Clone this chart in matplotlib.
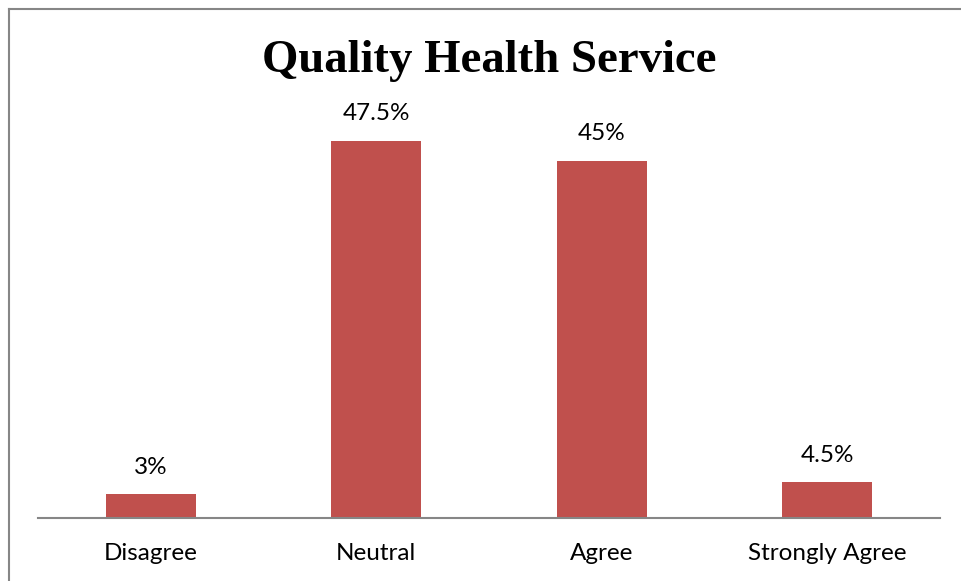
import matplotlib
matplotlib.use("Agg")
import matplotlib.pyplot as plt
from matplotlib.lines import Line2D

categories = ["Disagree", "Neutral", "Agree", "Strongly Agree"]
values = [3, 47.5, 45, 4.5]
value_labels = ["3%", "47.5%", "45%", "4.5%"]
title = "Quality Health Service"

W, H = 961, 581
fig = plt.figure(figsize=(W / 100, H / 100), dpi=100)
fig.patch.set_facecolor("white")

# outer chart border (top and left visible)
fig.add_artist(Line2D([9 / W, 9 / W], [0, 1 - 9 / H], transform=fig.transFigure, color="#868686", lw=1.5))
fig.add_artist(Line2D([9 / W, 1], [1 - 9 / H, 1 - 9 / H], transform=fig.transFigure, color="#868686", lw=1.5))

left, right = 38 / W, 940 / W
bottom, top = (H - 518) / H, (H - 121) / H
ax = fig.add_axes([left, bottom, right - left, top - bottom])
x = range(len(categories))
ax.bar(x, values, width=0.4, color="#C0504D")
ax.set_xlim(-0.5, len(categories) - 0.5)
ax.set_ylim(0, 50)
for s in ["top", "right", "left"]:
    ax.spines[s].set_visible(False)
ax.spines["bottom"].set_color("#868686")
ax.spines["bottom"].set_linewidth(1.5)
ax.set_yticks([])
ax.set_xticks(list(x))
ax.set_xticklabels(categories, fontsize=17.5, family="Lato")
ax.tick_params(axis="x", length=0, pad=18)
for i, (v, lab) in enumerate(zip(values, value_labels)):
    ax.annotate(lab, (i, v), xytext=(0, 27 * 0.72), textcoords="offset points",
                ha="center", va="center", fontsize=17.5, family="Lato")

fig.text(489 / W, 1 - 61 / H, title, ha="center", va="center",
         fontsize=33.7, fontweight="bold", family="Liberation Serif")

fig.savefig("out.png", dpi=100)
